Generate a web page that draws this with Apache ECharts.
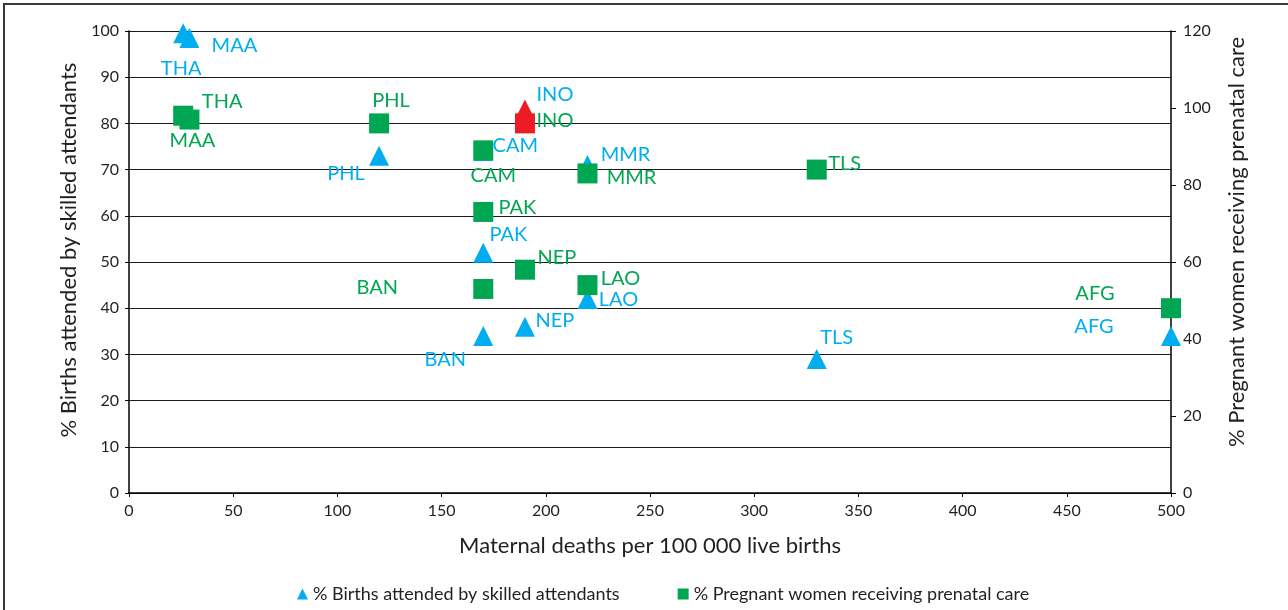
<!DOCTYPE html>
<html>
<head>
<meta charset="utf-8">
<script src="https://cdn.jsdelivr.net/npm/echarts@6/dist/echarts.min.js"></script>
<style>
    html, body { margin: 0; padding: 0; background: #fff; }
    #chart { width: 1288px; height: 610px; }
    .frame {
        position: absolute;
        left: 3px;
        top: 3px;
        width: 1300px;
        height: 620px;
        border-top: 2px solid #3a3a3a;
        border-left: 2px solid #3a3a3a;
        pointer-events: none;
    }
</style>
</head>
<body>
<div id="chart"></div>
<div class="frame"></div>
<script>
    // data
    const countries      = ['THA', 'MAA', 'PHL', 'INO', 'CAM', 'MMR', 'PAK', 'NEP', 'LAO', 'BAN', 'TLS', 'AFG'];
    const maternalDeaths = [26, 29, 120, 190, 170, 220, 170, 190, 220, 170, 330, 500];
    const birthsAttended = [99.5, 98.5, 73, 83, 74, 71, 52, 36, 42, 34, 29, 34];
    const prenatalCare   = [98, 97, 96, 96, 89, 83, 73, 58, 54, 53, 84, 48];
    const highlighted    = 'INO';

    // where each country label sits relative to its marker (px)
    const blueLabelOffset = {
        THA: [-2, 35], MAA: [45, 8], PHL: [-33, 18], INO: [30, -15], CAM: [32, -6], MMR: [38, -10],
        PAK: [25, -18], NEP: [30, -6], LAO: [31, 1], BAN: [-38, 24], TLS: [20, -21], AFG: [-77, -9]
    };
    const greenLabelOffset = {
        THA: [39, -14], MAA: [3, 21], PHL: [12, -23], INO: [30, -3], CAM: [10, 25], MMR: [44, 4],
        PAK: [34, -4], NEP: [32, -12], LAO: [33, -7], BAN: [-106, -1], TLS: [28, -6], AFG: [-76, -15]
    };

    const BLUE = '#00aeef';
    const GREEN = '#00a651';
    const RED = '#ed1c24';
    const TEXT = '#231f20';
    const FONT = 'Lato, "Open Sans", sans-serif';

    function buildData(values, offsets){
        return countries.map((name, i) => {
            let item = {
                name: name,
                value: [maternalDeaths[i], values[i]],
                label: { offset: offsets[name] }
            };
            if (name === highlighted){
                item.itemStyle = { color: RED };
            }
            return item;
        });
    }

    const chart = echarts.init(document.getElementById('chart'));
    const axisText = { color: TEXT, fontFamily: FONT, fontSize: 16 };
    const nameText = { color: TEXT, fontFamily: FONT, fontSize: 22 };

    chart.setOption({
        animation: false,
        textStyle: { fontFamily: FONT },
        grid: { left: 129, right: 117, top: 31, bottom: 117 },
        legend: {
            left: 292,
            top: 580,
            itemGap: 58,
            itemWidth: 11,
            itemHeight: 11,
            textStyle: { color: TEXT, fontFamily: FONT, fontSize: 18 },
            data: [
                { name: '% Births attended by skilled attendants', icon: 'triangle' },
                { name: '% Pregnant women receiving prenatal care', icon: 'rect' }
            ]
        },
        xAxis: {
            type: 'value',
            min: 0,
            max: 500,
            interval: 50,
            name: 'Maternal deaths per 100 000 live births',
            nameLocation: 'middle',
            nameGap: 42,
            nameTextStyle: nameText,
            axisLine: { lineStyle: { color: '#000', width: 1.5 } },
            axisTick: { length: 4, lineStyle: { color: '#000' } },
            axisLabel: Object.assign({ margin: 10 }, axisText),
            splitLine: { show: false }
        },
        yAxis: [
            {
                type: 'value',
                min: 0,
                max: 100,
                interval: 10,
                name: '% Births attended by skilled attendants',
                nameLocation: 'middle',
                nameGap: 48,
                nameTextStyle: Object.assign({ padding: [0, 0, 0, 24] }, nameText),
                axisLine: { show: true, lineStyle: { color: '#000', width: 1.5 } },
                axisTick: { show: true, length: 4, lineStyle: { color: '#000' } },
                axisLabel: Object.assign({ margin: 10 }, axisText),
                splitLine: { show: true, lineStyle: { color: '#1a1a1a', width: 1.2 } }
            },
            {
                type: 'value',
                min: 0,
                max: 120,
                interval: 20,
                position: 'right',
                name: '% Pregnant women receiving prenatal care',
                nameLocation: 'middle',
                nameGap: 55,
                nameTextStyle: Object.assign({ padding: [0, 0, 0, 40] }, nameText),
                axisLine: { show: true, lineStyle: { color: '#000', width: 1.5 } },
                axisTick: { show: true, length: 5, lineStyle: { color: '#000' } },
                axisLabel: Object.assign({ margin: 12 }, axisText),
                splitLine: { show: false }
            }
        ],
        series: [
            {
                name: '% Births attended by skilled attendants',
                type: 'scatter',
                yAxisIndex: 0,
                symbol: 'triangle',
                symbolSize: 20,
                itemStyle: { color: BLUE, opacity: 1 },
                label: {
                    show: true,
                    position: 'inside',
                    formatter: '{b}',
                    color: BLUE,
                    fontFamily: FONT,
                    fontSize: 20
                },
                data: buildData(birthsAttended, blueLabelOffset)
            },
            {
                name: '% Pregnant women receiving prenatal care',
                type: 'scatter',
                yAxisIndex: 1,
                symbol: 'rect',
                symbolSize: 20,
                itemStyle: { color: GREEN, opacity: 1 },
                label: {
                    show: true,
                    position: 'inside',
                    formatter: '{b}',
                    color: GREEN,
                    fontFamily: FONT,
                    fontSize: 20
                },
                data: buildData(prenatalCare, greenLabelOffset)
            }
        ]
    });
</script>
</body>
</html>
